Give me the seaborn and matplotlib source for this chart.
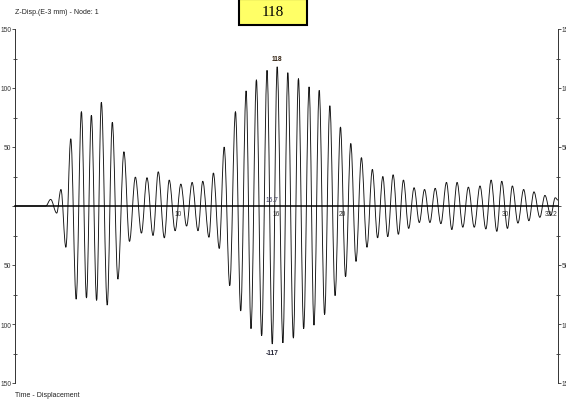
import matplotlib
matplotlib.use("Agg")
import matplotlib.pyplot as plt
from matplotlib.patches import Rectangle, PathPatch
from matplotlib.path import Path
from matplotlib.ticker import FixedLocator
import seaborn as sns

# ---- data: extrema of the displacement history (time s, displacement E-3 mm)
times = [0.0, 1.88, 2.18, 2.55, 2.81, 3.11, 3.41, 3.74, 4.06, 4.37, 4.67, 4.99,
         5.28, 5.64, 5.95, 6.29, 6.66, 7.00, 7.36, 7.73, 8.07, 8.44, 8.76, 9.13,
         9.43, 9.79, 10.14, 10.49, 10.83, 11.19, 11.48, 11.86, 12.13, 12.49,
         12.79, 13.13, 13.48, 13.80, 14.13, 14.43, 14.76, 15.08, 15.41, 15.73,
         16.03, 16.38, 16.68, 17.02, 17.33, 17.65, 17.98, 18.28, 18.60, 18.93,
         19.25, 19.57, 19.90, 20.21, 20.53, 20.85, 21.18, 21.52, 21.85, 22.17,
         22.49, 22.79, 23.12, 23.44, 23.75, 24.07, 24.40, 24.72, 25.04, 25.37,
         25.69, 26.04, 26.38, 26.71, 27.03, 27.38, 27.72, 28.08, 28.43, 28.79,
         29.11, 29.46, 29.76, 30.11, 30.41, 30.75, 31.10, 31.42, 31.73, 32.09,
         32.40, 32.76, 33.03, 33.2]
displacement = [0, 0, 5.6, -6, 14, -35, 57, -79, 80, -78, 77, -80,
                88, -84, 71, -62, 46, -30, 24.5, -23, 24, -25, 29, -27,
                22, -21, 18.6, -17, 20, -21, 21, -26.5, 28, -36,
                50, -67.5, 80, -89, 97.6, -104, 107, -110, 115, -117,
                118, -116, 113, -112, 108, -104, 101, -101, 98, -92,
                85, -76, 67, -60, 53, -47, 41, -35, 31, -27,
                25, -26, 26.5, -24, 22, -19, 15.5, -14, 14, -14,
                15, -15, 20, -20, 20, -18, 16, -18, 17, -19.5,
                22, -21.5, 21, -19, 17, -14.5, 14, -12.5, 12, -9.6,
                9, -8, 7, 5]

x_tick_values = [10, 16, 20, 30, 33.2]
x_tick_labels = ["10", "16", "20", "30", "33.2"]
y_tick_values = [-150, -100, -50, 0, 50, 100, 150]
y_tick_labels = ["150", "100", "50", "", "50", "100", "150"]
y_minor_values = [-125, -75, -25, 25, 75, 125]

max_val, max_t = 118, 16.03
min_val, min_t = -117, 15.73
cursor_label = "15.7"

title_text = "Z-Disp.(E-3 mm) - Node: 1"
footer_text = "Time - Displacement"
box_text = "118"

# ---- figure
sns.set_theme(style="white")
plt.rcParams["font.family"] = ["Liberation Sans Narrow", "Liberation Sans", "DejaVu Sans"]

W, H = 566, 402
fig = plt.figure(figsize=(W / 100, H / 100), dpi=100)
ax = fig.add_axes([15 / W, 1 - 384 / H, (558 - 15) / W, (384 - 30) / H])
sns.despine(ax=ax, top=True, right=False, left=False, bottom=False)

# smooth curve through the extrema (horizontal tangent at each extremum)
k = 0.36
verts = [(times[0], displacement[0])]
codes = [Path.MOVETO]
for i in range(len(times) - 1):
    t0, v0 = times[i], displacement[i]
    t1, v1 = times[i + 1], displacement[i + 1]
    dt = t1 - t0
    verts += [(t0 + k * dt, v0), (t1 - k * dt, v1), (t1, v1)]
    codes += [Path.CURVE4, Path.CURVE4, Path.CURVE4]
ax.add_patch(PathPatch(Path(verts, codes), fill=False, edgecolor="#111111",
                       lw=0.65, transform=ax.transData, zorder=3))

ax.set_xlim(0, 33.2)
ax.set_ylim(-150, 150)

ax.spines["bottom"].set_position(("data", 0))
ax.spines["bottom"].set_linewidth(1.1)
ax.spines["bottom"].set_color("black")
ax.spines["bottom"].set_zorder(4)
for s in ["left", "right"]:
    ax.spines[s].set_linewidth(0.7)
    ax.spines[s].set_color("#333333")

ax.set_yticks(y_tick_values)
ax.set_yticklabels(y_tick_labels)
ax.yaxis.set_minor_locator(FixedLocator(y_minor_values))
ax.yaxis.set_ticks_position("both")
ax.tick_params(axis="y", which="major", direction="out", length=2.0, width=0.6,
               labelsize=4.8, pad=0.8, labelright=True, labelleft=True, colors="#333333")
ax.tick_params(axis="y", which="minor", direction="inout", length=3, width=0.6,
               left=True, right=True, colors="#333333")

ax.set_xticks(x_tick_values)
ax.set_xticklabels(x_tick_labels)
ax.tick_params(axis="x", length=0, labelsize=4.8, pad=3, colors="#333333")
ax.get_xticklabels()[-1].set_ha("right")

ax.text(min_t, 2.5, cursor_label, ha="center", va="bottom", fontsize=4.8, color="#333355")
ax.text(max_t, max_val + 4, str(max_val), ha="center", va="bottom", fontsize=4.8,
        color="#332211", fontweight="bold")
ax.text(min_t, min_val - 4, str(min_val), ha="center", va="top", fontsize=4.8,
        color="#222233", fontweight="bold")

fig.text(15 / W, 1 - 13 / H, title_text, fontsize=5.0, va="center", ha="left", color="#222222")
fig.text(15 / W, 1 - 396 / H, footer_text, fontsize=5.0, va="center", ha="left", color="#222222")

fig.add_artist(Rectangle((239 / W, 1 - 26 / H), 68 / W, 26 / H, transform=fig.transFigure,
                         facecolor="#ffff66", edgecolor="black", lw=1.5))
fig.text(273 / W, 1 - 12.5 / H, box_text, fontsize=11, ha="center", va="center",
         family=["Liberation Serif", "DejaVu Serif"], color="black")

fig.savefig("out.png", dpi=100, facecolor="white")
